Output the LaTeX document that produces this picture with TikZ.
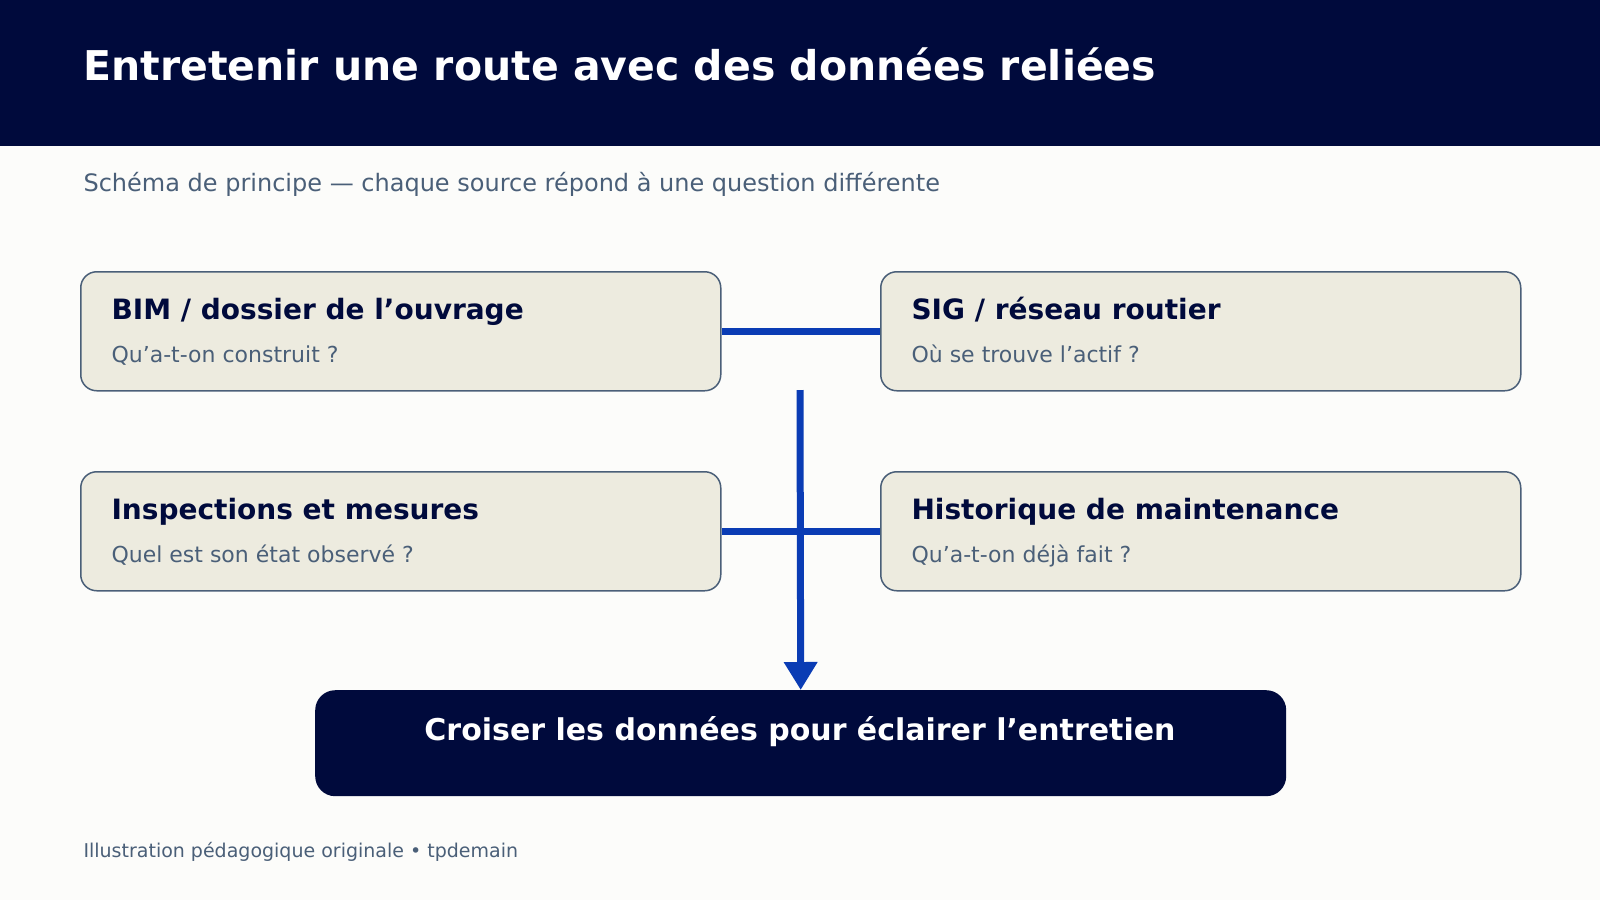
\documentclass[tikz,border=0pt]{standalone}
\usepackage{fontspec}
\setmainfont{DejaVu Sans}
\usetikzlibrary{arrows.meta}
\definecolor{navy}{HTML}{000A3C}
\definecolor{paper}{HTML}{FCFCFA}
\definecolor{boxfill}{HTML}{EDEBDF}
\definecolor{boxline}{HTML}{4A5F78}
\definecolor{grayblue}{HTML}{4A5F78}
\definecolor{link}{HTML}{0A3CB4}
\begin{document}
\begin{tikzpicture}[x=1pt,y=-1pt,
  src/.style={draw=boxline,line width=1.5pt,fill=boxfill,rounded corners=16pt},
  ttl/.style={anchor=base west,text=navy,font=\fontsize{28}{32}\selectfont\bfseries},
  sub/.style={anchor=base west,text=grayblue,font=\fontsize{22}{26}\selectfont},
  lnk/.style={draw=link,line width=7pt}]
\useasboundingbox (0,0) rectangle (1600,900);
\fill[paper] (0,0) rectangle (1600,900);
\fill[navy] (0,0) rectangle (1600,146);
\node[anchor=base west,text=white,font=\fontsize{41}{46}\selectfont\bfseries] (title) at (80,80) {Entretenir une route avec des données reliées};
\node[anchor=base west,text=grayblue,font=\fontsize{24}{28}\selectfont] (subtitle) at (80,191) {Schéma de principe — chaque source répond à une question différente};
\node[src,minimum width=640pt,minimum height=119pt,anchor=north west] (bim) at (80,271) {};
\node[src,minimum width=640pt,minimum height=119pt,anchor=north west] (sig) at (880,271) {};
\node[src,minimum width=640pt,minimum height=119pt,anchor=north west] (insp) at (80,471) {};
\node[src,minimum width=640pt,minimum height=119pt,anchor=north west] (hist) at (880,471) {};
\node[ttl] at (108,319) {BIM / dossier de l’ouvrage};
\node[sub] at (108,362) {Qu’a-t-on construit ?};
\node[ttl] at (908,319) {SIG / réseau routier};
\node[sub] at (908,362) {Où se trouve l’actif ?};
\node[ttl] at (108,519) {Inspections et mesures};
\node[sub] at (108,562) {Quel est son état observé ?};
\node[ttl] at (908,519) {Historique de maintenance};
\node[sub] at (908,562) {Qu’a-t-on déjà fait ?};
\node[fill=navy,rounded corners=20pt,minimum width=971pt,minimum height=106pt,anchor=north west] (out) at (315,690) {};
\node[anchor=base,text=white,font=\fontsize{30}{34}\selectfont\bfseries] at (800,740) {Croiser les données pour éclairer l’entretien};
\coordinate (top) at (800,390);
\draw[lnk] (bim.east) -- (sig.west);
\draw[lnk] (insp.east) -- (hist.west);
\draw[lnk,-{Triangle[length=28pt,width=32pt]}] (top) -- (out.north);
\node[anchor=base west,text=grayblue,font=\fontsize{19}{22}\selectfont] (foot) at (80,857) {Illustration pédagogique originale • tpdemain};
\end{tikzpicture}
\end{document}
